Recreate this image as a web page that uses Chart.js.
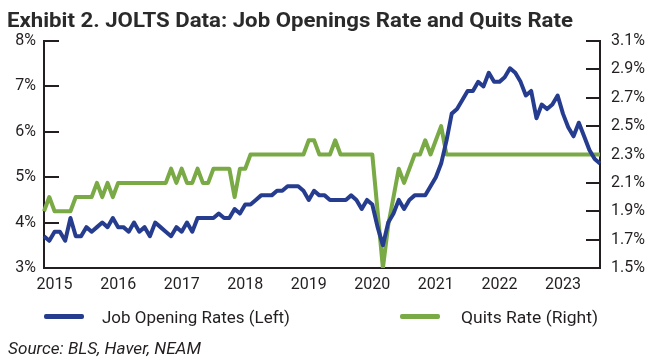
<!DOCTYPE html>
<html>
<head>
<meta charset="utf-8">
<script src="https://cdn.jsdelivr.net/npm/chart.js@4.4.0/dist/chart.umd.min.js"></script>
<style>
  html, body { margin: 0; padding: 0; background: #fff; }
  #wrap { position: relative; width: 655px; height: 364px; overflow: hidden; font-family: Roboto, sans-serif; color: #231f20; }
  #chart { position: absolute; left: 0; top: 0; }
  .txt { position: absolute; white-space: nowrap; transform-origin: 0 0; line-height: 1; }
  #title { left: 7px; top: 10px; font-size: 21px; font-weight: 700; color: #2a2a2a; }
  .leg { top: 309px; font-size: 17px; }
  .swatch { position: absolute; top: 314px; width: 40px; height: 5px; border-radius: 2px; }
  #source { left: 8px; top: 341px; font-size: 16px; font-style: italic; }
</style>
</head>
<body>
<div id="wrap">
  <canvas id="chart" width="655" height="364"></canvas>
  <span class="txt" id="title" data-w="566">Exhibit 2. JOLTS Data: Job Openings Rate and Quits Rate</span>
  <div class="swatch" style="left:44px;background:#263d8f"></div>
  <span class="txt leg" style="left:102px" data-w="188">Job Opening Rates (Left)</span>
  <div class="swatch" style="left:400px;background:#7aaa45"></div>
  <span class="txt leg" style="left:461px" data-w="137">Quits Rate (Right)</span>
  <span class="txt" id="source" data-w="193">Source: BLS, Haver, NEAM</span>
</div>
<script>
// monthly, Nov 2014 .. Aug 2023
const jobOpenings = [
  3.7, 3.6, 3.8, 3.8, 3.6, 4.1, 3.7, 3.7, 3.9, 3.8, 3.9, 4.0,
  3.9, 4.1, 3.9, 3.9, 3.8, 4.0, 3.8, 3.9, 3.7, 4.0, 3.9, 3.8,
  3.7, 3.9, 3.8, 4.0, 3.8, 4.1, 4.1, 4.1, 4.1, 4.2, 4.1, 4.1,
  4.3, 4.2, 4.4, 4.4, 4.5, 4.6, 4.6, 4.6, 4.7, 4.7, 4.8, 4.8,
  4.8, 4.7, 4.5, 4.7, 4.6, 4.6, 4.5, 4.5, 4.5, 4.5, 4.6, 4.5,
  4.3, 4.5, 4.4, 3.9, 3.5, 4.0, 4.2, 4.5, 4.3, 4.5, 4.6, 4.6,
  4.6, 4.8, 5.0, 5.3, 5.8, 6.4, 6.5, 6.7, 6.9, 6.9, 7.1, 7.0,
  7.3, 7.1, 7.1, 7.2, 7.4, 7.3, 7.1, 6.8, 6.9, 6.3, 6.6, 6.5,
  6.6, 6.8, 6.4, 6.1, 5.9, 6.2, 5.9, 5.6, 5.4, 5.3
];
const quitsRate = [
  1.9, 2.0, 1.9, 1.9, 1.9, 1.9, 2.0, 2.0, 2.0, 2.0, 2.1, 2.0,
  2.1, 2.0, 2.1, 2.1, 2.1, 2.1, 2.1, 2.1, 2.1, 2.1, 2.1, 2.1,
  2.2, 2.1, 2.2, 2.1, 2.1, 2.2, 2.1, 2.1, 2.2, 2.2, 2.2, 2.2,
  2.0, 2.2, 2.2, 2.3, 2.3, 2.3, 2.3, 2.3, 2.3, 2.3, 2.3, 2.3,
  2.3, 2.3, 2.4, 2.4, 2.3, 2.3, 2.3, 2.4, 2.3, 2.3, 2.3, 2.3,
  2.3, 2.3, 2.3, 1.9, 1.5, 1.8, 2.0, 2.2, 2.1, 2.2, 2.3, 2.3,
  2.4, 2.3, 2.4, 2.5, 2.3, 2.3, 2.3, 2.3, 2.3, 2.3, 2.3, 2.3,
  2.3, 2.3, 2.3, 2.3, 2.3, 2.3, 2.3, 2.3, 2.3, 2.3, 2.3, 2.3,
  2.3, 2.3, 2.3, 2.3, 2.3, 2.3, 2.3, 2.3, 2.3, 2.3
];
const yearLabels = ['2015', '2016', '2017', '2018', '2019', '2020', '2021', '2022', '2023'];
const leftTicks = [3, 4, 5, 6, 7, 8];
const rightTicks = [1.5, 1.7, 1.9, 2.1, 2.3, 2.5, 2.7, 2.9, 3.1];

const months = [];
for (let i = 0; i < jobOpenings.length; i++) {
  const m = 10 + i;
  months.push((2014 + Math.floor(m / 12)) + '-' + String(m % 12 + 1).padStart(2, '0'));
}

const ink = '#231f20';
const tickFont = { family: 'Roboto', size: 16 };

// tick marks drawn on the inside of both y axes
const innerTicks = {
  id: 'innerTicks',
  beforeDatasetsDraw(chart) {
    const { ctx, chartArea, scales } = chart;
    ctx.save();
    ctx.strokeStyle = ink;
    ctx.lineWidth = 2;
    scales.y.ticks.forEach((t) => {
      const py = Math.round(scales.y.getPixelForValue(t.value));
      ctx.beginPath();
      ctx.moveTo(chartArea.left, py);
      ctx.lineTo(chartArea.left + 15, py);
      ctx.stroke();
    });
    scales.y1.ticks.forEach((t) => {
      const py = Math.round(scales.y1.getPixelForValue(t.value));
      ctx.beginPath();
      ctx.moveTo(chartArea.right - 14, py);
      ctx.lineTo(chartArea.right, py);
      ctx.stroke();
    });
    ctx.restore();
  },
};

new Chart(document.getElementById('chart'), {
  type: 'line',
  data: {
    labels: months,
    datasets: [
      {
        label: 'Job Opening Rates (Left)',
        data: jobOpenings,
        yAxisID: 'y',
        borderColor: '#263d8f',
        borderWidth: 4,
        pointRadius: 0,
        borderJoinStyle: 'round',
      },
      {
        label: 'Quits Rate (Right)',
        data: quitsRate,
        yAxisID: 'y1',
        borderColor: '#7aaa45',
        borderWidth: 4,
        pointRadius: 0,
        borderJoinStyle: 'round',
      },
    ],
  },
  options: {
    responsive: false,
    animation: false,
    layout: { padding: { left: 0, right: 0, top: 41, bottom: 68 } },
    plugins: { legend: { display: false }, tooltip: { enabled: false } },
    scales: {
      x: {
        grid: { display: false, drawTicks: false },
        border: { display: true, color: ink, width: 2 },
        ticks: {
          autoSkip: false,
          maxRotation: 0,
          padding: 7,
          color: ink,
          font: tickFont,
          callback(val) {
            const lab = this.getLabelForValue(val);
            return lab.endsWith('-01') && yearLabels.includes(lab.slice(0, 4)) ? lab.slice(0, 4) : null;
          },
        },
        afterFit(scale) { scale.height = 28; },
      },
      y: {
        position: 'left',
        min: 3,
        max: 8,
        grid: { display: false, drawTicks: false },
        border: { display: true, color: ink, width: 2 },
        afterBuildTicks(scale) { scale.ticks = leftTicks.map((v) => ({ value: v })); },
        ticks: { padding: 8, color: ink, font: tickFont, callback: (v) => v + '%' },
        afterFit(scale) { scale.width = 44; },
      },
      y1: {
        position: 'right',
        min: 1.5,
        max: 3.1,
        grid: { display: false, drawTicks: false },
        border: { display: true, color: ink, width: 2 },
        afterBuildTicks(scale) { scale.ticks = rightTicks.map((v) => ({ value: v })); },
        ticks: { padding: 11, color: ink, font: tickFont, callback: (v) => v.toFixed(1) + '%' },
        afterFit(scale) { scale.width = 55; },
      },
    },
  },
  plugins: [innerTicks],
});

// squeeze the html texts to the widths they take in the exhibit
document.querySelectorAll('[data-w]').forEach((el) => {
  const w = el.getBoundingClientRect().width;
  el.style.transform = 'scaleX(' + (el.dataset.w / w) + ')';
});
</script>
</body>
</html>
